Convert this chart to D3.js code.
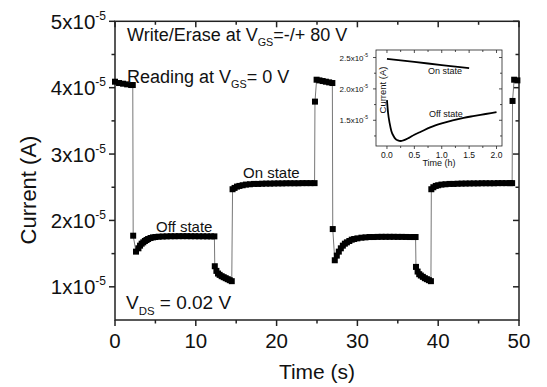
<!DOCTYPE html>
<html>
<head>
<meta charset="utf-8">
<script src="https://cdn.jsdelivr.net/npm/d3@7"></script>
<style>
  body { margin: 0; background: #fff; }
  text { font-family: "Liberation Sans", Arial, sans-serif; fill: #111; }
</style>
</head>
<body>
<div id="chartDiv"></div>
<script>
// main series, time in s, current in units of 1e-5 A
var timeS = [
  0, 0.5, 1.0, 1.5, 2.0, 2.2,
  2.25, 2.6,
  2.9, 3.1, 3.3, 3.5, 3.7, 3.9, 4.1, 4.4, 4.7, 5.0, 5.4, 5.9, 6.4, 6.9, 7.4, 7.9, 8.4, 8.9, 9.4, 9.9, 10.4, 10.9, 11.4, 11.9, 12.3,
  12.35, 12.55, 12.75, 12.95, 13.2, 13.45, 13.7, 13.95, 14.2, 14.45,
  14.55, 14.8, 15.1, 15.4, 15.8, 16.2, 16.7, 17.2, 17.7, 18.2, 18.7, 19.2, 19.7, 20.2, 20.7, 21.2, 21.7, 22.2, 22.7, 23.2, 23.7, 24.2, 24.7,
  24.75, 24.95, 25.3, 25.7, 26.1, 26.5, 26.9,
  26.95, 27.2, 27.45, 27.7, 27.95, 28.2, 28.45, 28.7, 29.0, 29.3, 29.6, 30.0, 30.5, 31.0, 31.5, 32.0, 32.5, 33.0, 33.5, 34.0, 34.5, 35.0, 35.5, 36.0, 36.5, 37.0, 37.2,
  37.25, 37.45, 37.65, 37.85, 38.1, 38.35, 38.6, 38.85, 39.1,
  39.15, 39.4, 39.7, 40.0, 40.4, 40.9, 41.4, 41.9, 42.4, 42.9, 43.4, 43.9, 44.4, 44.9, 45.4, 45.9, 46.4, 46.9, 47.4, 47.9, 48.4, 48.9, 49.15,
  49.2, 49.4, 49.8
];
var currentA = [
  4.09, 4.07, 4.06, 4.05, 4.04, 4.04,
  1.77, 1.53,
  1.58, 1.62, 1.65, 1.67, 1.69, 1.705, 1.72, 1.735, 1.745, 1.75, 1.755, 1.758, 1.76, 1.762, 1.762, 1.763, 1.763, 1.763, 1.762, 1.762, 1.761, 1.761, 1.76, 1.76, 1.76,
  1.31, 1.24, 1.20, 1.18, 1.16, 1.145, 1.13, 1.115, 1.10, 1.085,
  2.47, 2.49, 2.51, 2.52, 2.53, 2.54, 2.545, 2.55, 2.55, 2.553, 2.555, 2.555, 2.557, 2.558, 2.558, 2.56, 2.56, 2.56, 2.56, 2.562, 2.562, 2.562, 2.562,
  3.79, 4.12, 4.11, 4.10, 4.09, 4.08, 4.07,
  1.87, 1.40, 1.47, 1.53, 1.58, 1.62, 1.65, 1.67, 1.69, 1.71, 1.72, 1.73, 1.74, 1.745, 1.75, 1.75, 1.752, 1.753, 1.753, 1.753, 1.753, 1.752, 1.752, 1.751, 1.75, 1.75, 1.75,
  1.30, 1.23, 1.19, 1.17, 1.15, 1.13, 1.115, 1.10, 1.085,
  2.47, 2.50, 2.52, 2.53, 2.54, 2.545, 2.55, 2.55, 2.553, 2.555, 2.556, 2.557, 2.558, 2.558, 2.56, 2.56, 2.56, 2.56, 2.562, 2.562, 2.562, 2.562, 2.562,
  3.80, 4.12, 4.11
];
var xTicks = [0, 10, 20, 30, 40, 50];
var yTicks = [1, 2, 3, 4, 5];

// inset series, time in h, current in units of 1e-5 A
var insetOnTime = [0, 0.25, 0.5, 0.75, 1.0, 1.25, 1.5];
var insetOnCurrent = [2.48, 2.455, 2.43, 2.405, 2.38, 2.355, 2.33];
var insetOffTime = [0, 0.02, 0.05, 0.08, 0.12, 0.16, 0.2, 0.25, 0.3, 0.4, 0.5, 0.6, 0.8, 1.0, 1.2, 1.4, 1.6, 1.8, 2.0];
var insetOffCurrent = [1.82, 1.62, 1.45, 1.33, 1.25, 1.20, 1.18, 1.17, 1.18, 1.22, 1.27, 1.31, 1.39, 1.45, 1.50, 1.54, 1.57, 1.60, 1.63];
var insetXTicks = [0, 0.5, 1.0, 1.5, 2.0];
var insetYTicks = [1.5, 2.0, 2.5];

var W = 547, H = 387;
var svg = d3.select("#chartDiv").append("svg")
    .attr("width", W).attr("height", H);

var x = d3.scaleLinear().domain([0, 50]).range([115, 519]);
var y = d3.scaleLinear().domain([0.5, 5]).range([320, 21.3]);

// draws a box with Origin-like ticks: bottom/left out, top/right mirrored
function frame(g, xs, ys, xMajor, xMinor, yMajor, yMinor, big, small, sw) {
  var x0 = xs.range()[0], x1 = xs.range()[1];
  var y0 = ys.range()[0], y1 = ys.range()[1];
  xMinor.forEach(function(v) {
    var len = xMajor.indexOf(v) >= 0 ? big : small;
    g.append("line").attr("x1", xs(v)).attr("x2", xs(v)).attr("y1", y0).attr("y2", y0 + len);
    g.append("line").attr("x1", xs(v)).attr("x2", xs(v)).attr("y1", y1).attr("y2", y1 + len);
  });
  yMinor.forEach(function(v) {
    var len = yMajor.indexOf(v) >= 0 ? big : small;
    g.append("line").attr("y1", ys(v)).attr("y2", ys(v)).attr("x1", x0).attr("x2", x0 - len);
    g.append("line").attr("y1", ys(v)).attr("y2", ys(v)).attr("x1", x1).attr("x2", x1 - len);
  });
  g.append("rect").attr("x", x0).attr("y", y1).attr("width", x1 - x0).attr("height", y0 - y1)
    .attr("fill", "none");
  g.selectAll("line,rect").attr("stroke", "#222").attr("stroke-width", sw);
}

var axes = svg.append("g");
frame(axes, x, y, xTicks, d3.range(0, 50.1, 5), yTicks, d3.range(1, 5.01, 0.5), 6, 3.5, 1.5);

// tick labels
svg.selectAll(".xlab").data(xTicks).enter().append("text")
    .attr("x", function(d) { return x(d); })
    .attr("y", 348)
    .attr("text-anchor", "middle")
    .style("font-size", "20.5px")
    .text(function(d) { return d; });

var yl = svg.selectAll(".ylab").data(yTicks).enter().append("text")
    .attr("x", 106)
    .attr("y", function(d) { return y(d) + 7.5; })
    .attr("text-anchor", "end")
    .style("font-size", "20.5px");
yl.append("tspan").text(function(d) { return d + "x10"; });
yl.append("tspan").attr("dy", -9).style("font-size", "12px").text("-5");

svg.append("text").attr("x", 317).attr("y", 379).attr("text-anchor", "middle")
    .style("font-size", "21px").text("Time (s)");
svg.append("text").attr("transform", "translate(36,190) rotate(-90)").attr("text-anchor", "middle")
    .style("font-size", "22px").text("Current (A)");

// data line + square markers
var pts = timeS.map(function(t, i) { return [t, currentA[i]]; });
svg.append("path").datum(pts)
    .attr("fill", "none").attr("stroke", "#777").attr("stroke-width", 1)
    .attr("d", d3.line().x(function(d) { return x(d[0]); }).y(function(d) { return y(d[1]); }));
svg.selectAll(".mk").data(pts).enter().append("rect")
    .attr("x", function(d) { return x(d[0]) - 3; })
    .attr("y", function(d) { return y(d[1]) - 3; })
    .attr("width", 6).attr("height", 6)
    .attr("fill", "#000");

// annotations
function subText(px, py, size, parts) {
  var t = svg.append("text").attr("x", px).attr("y", py).style("font-size", size + "px");
  parts.forEach(function(p) {
    var s = t.append("tspan").text(p[0]);
    if (p[1] == "sub") s.attr("dy", size * 0.3).style("font-size", (size * 0.6) + "px");
    if (p[1] == "back") s.attr("dy", -size * 0.3);
  });
}
subText(127, 41, 18, [["Write/Erase at V"], ["GS", "sub"], ["=-/+ 80 V", "back"]]);
subText(127, 83, 18, [["Reading at V"], ["GS", "sub"], ["= 0 V", "back"]]);
subText(126, 309, 19, [["V"], ["DS", "sub"], [" = 0.02 V", "back"]]);

svg.append("text").attr("x", 156).attr("y", 231.5).style("font-size", "15px").text("Off state");
svg.append("text").attr("x", 243).attr("y", 178).style("font-size", "15px").text("On state");

// inset
var ix = d3.scaleLinear().domain([-0.2, 2.1]).range([376, 502]);
var iy = d3.scaleLinear().domain([1.09, 2.62]).range([146, 50]);
var inset = svg.append("g");
inset.append("rect").attr("x", 376).attr("y", 50).attr("width", 126).attr("height", 96).attr("fill", "#fff");
var iaxes = inset.append("g");
frame(iaxes, ix, iy, insetXTicks, d3.range(0, 2.01, 0.25), insetYTicks, d3.range(1.25, 2.51, 0.25), 3, 2, 0.8);

var line = d3.line().curve(d3.curveMonotoneX)
    .x(function(d) { return ix(d[0]); }).y(function(d) { return iy(d[1]); });
inset.append("path").datum(insetOnTime.map(function(t, i) { return [t, insetOnCurrent[i]]; }))
    .attr("fill", "none").attr("stroke", "#000").attr("stroke-width", 1.8).attr("d", line);
inset.append("path").datum(insetOffTime.map(function(t, i) { return [t, insetOffCurrent[i]]; }))
    .attr("fill", "none").attr("stroke", "#000").attr("stroke-width", 1.8).attr("d", line);

inset.selectAll(".ixl").data(insetXTicks).enter().append("text")
    .attr("x", function(d) { return ix(d); }).attr("y", 157.5)
    .attr("text-anchor", "middle").style("font-size", "8.5px")
    .text(function(d) { return d.toFixed(1); });
var iyl = inset.selectAll(".iyl").data(insetYTicks).enter().append("text")
    .attr("x", 368).attr("y", function(d) { return iy(d) + 3; })
    .attr("text-anchor", "end").style("font-size", "8px");
iyl.append("tspan").text(function(d) { return d.toFixed(1) + "x10"; });
iyl.append("tspan").attr("dy", -4).style("font-size", "5px").text("-5");

inset.append("text").attr("x", ix(0.95)).attr("y", 166).attr("text-anchor", "middle")
    .style("font-size", "9px").text("Time (h)");
inset.append("text").attr("transform", "translate(386,90) rotate(-90)").attr("text-anchor", "middle")
    .style("font-size", "9.5px").text("Current (A)");
inset.append("text").attr("x", 428).attr("y", 74).style("font-size", "9px").text("On state");
inset.append("text").attr("x", 429).attr("y", 116.5).style("font-size", "9px").text("Off state");
</script>
</body>
</html>
